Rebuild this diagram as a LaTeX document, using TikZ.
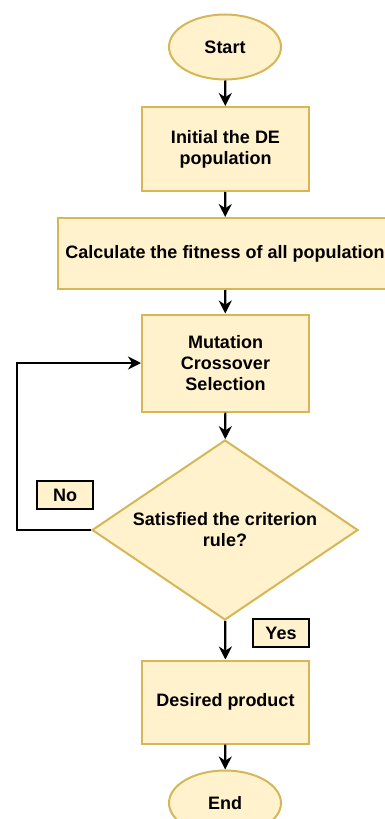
\documentclass[tikz,border=0pt]{standalone}
\usepackage{fontspec}
\setmainfont{Liberation Sans}
\usepackage{xcolor}
\usetikzlibrary{shapes.geometric,arrows.meta}
\definecolor{boxfill}{HTML}{FFF2CC}
\definecolor{boxline}{HTML}{D6B656}
\begin{document}
\begin{tikzpicture}[x=1pt,y=-1pt]
\tikzset{every node/.style={font=\bfseries\fontsize{18}{21}\selectfont,align=center,inner sep=0pt}}
\tikzset{stepbox/.style={rectangle,draw=boxline,fill=boxfill,line width=2pt}}
\tikzset{terminal/.style={ellipse,draw=boxline,fill=boxfill,line width=2pt,minimum width=112pt,minimum height=65pt}}
\tikzset{decision/.style={diamond,shape aspect=1.48,draw=boxline,fill=boxfill,line width=2pt,minimum width=266pt,minimum height=180pt}}
\tikzset{tag/.style={rectangle,draw=black,fill=boxfill,line width=2pt,minimum width=56pt,minimum height=28pt}}
\tikzset{arr/.style={draw=black,line width=2.2pt,-{Stealth[length=13pt,width=13pt]}}}
\useasboundingbox (0,0) rectangle (384,819);
% main column
\node[terminal] (start) at (225,47) {Start};
\node[stepbox,minimum width=167pt,minimum height=84pt] (init) at (225.5,149) {Initial the DE\\population};
\node[stepbox,minimum width=334pt,minimum height=71pt] (fit) at (225,253.5) {Calculate the fitness of all population};
\node[stepbox,minimum width=167pt,minimum height=97pt] (mut) at (225.5,363) {Mutation\\Crossover\\Selection};
\node[decision] (crit) at (225,530) {Satisfied the criterion\\rule?};
\node[stepbox,minimum width=167pt,minimum height=83pt] (prod) at (225.5,702) {Desired product};
\node[terminal] (stop) at (225,803) {End};
% labels
\node[tag] (no) at (65,495) {No};
\node[tag] (yes) at (281,633) {Yes};
\coordinate (back) at (17,530);
% connectors
\draw[arr] (start) -- (init);
\draw[arr] (init) -- (fit);
\draw[arr] (fit) -- (mut);
\draw[arr] (mut) -- (crit);
\draw[arr] (crit) -- (prod);
\draw[arr] (prod) -- (stop);
\draw[arr] (crit.west) -- (back) |- (mut.west);
\end{tikzpicture}
\end{document}
